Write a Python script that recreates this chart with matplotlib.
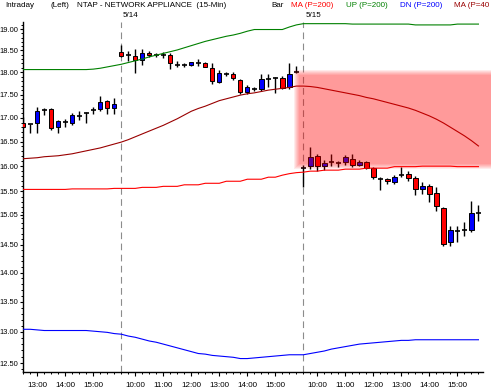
import numpy as np
import matplotlib
matplotlib.use("Agg")
import matplotlib.pyplot as plt
from matplotlib.patches import Rectangle
from matplotlib.ticker import FixedLocator, FixedFormatter, NullFormatter

plt.rcParams['font.family'] = ['Liberation Sans', 'DejaVu Sans']

# NTAP 15-min bars: 5/13 12:30-15:45, then 5/14 and 5/15 9:30-15:45
opens = [16.90, 16.86, 16.88, 17.16, 17.19, 16.80, 16.92, 16.90, 17.03, 17.11, 17.16, 17.18, 17.36, 17.20,
         18.46, 18.40, 18.38, 18.27, 18.45, 18.39, 18.39, 18.39, 18.16, 18.16, 18.17, 18.21, 18.21, 18.10,
         17.78, 17.96, 17.97, 17.82, 17.56, 17.63, 17.63, 17.84, 17.88, 17.88, 17.66, 18.01,
         15.96, 16.00, 16.20, 16.00, 16.08, 16.07, 16.08, 16.15, 16.03, 16.08, 15.97, 15.74, 15.74,
         15.68, 15.82, 15.84, 15.76, 15.54, 15.61, 15.47, 15.18, 14.54, 14.75, 14.77, 14.76, 15.08]
closes = [16.81, 16.86, 17.14, 17.16, 16.78, 16.93, 16.92, 17.05, 17.03, 17.11, 17.16, 17.35, 17.20, 17.29,
          18.38, 18.40, 18.28, 18.45, 18.40, 18.39, 18.39, 18.20, 18.16, 18.16, 18.23, 18.21, 18.12, 17.80,
          17.99, 17.96, 17.87, 17.56, 17.68, 17.63, 17.84, 17.84, 17.88, 17.65, 17.97, 18.01,
          15.96, 16.19, 16.00, 16.07, 16.08, 16.07, 16.18, 16.02, 16.08, 15.97, 15.78, 15.74, 15.70,
          15.78, 15.82, 15.77, 15.54, 15.60, 15.46, 15.22, 14.52, 14.76, 14.75, 14.77, 15.09, 15.08]
highs = [17.01, 16.87, 17.24, 17.22, 17.20, 16.95, 16.97, 17.11, 17.14, 17.12, 17.23, 17.47, 17.38, 17.42,
         18.62, 18.48, 18.54, 18.54, 18.48, 18.45, 18.47, 18.43, 18.26, 18.21, 18.24, 18.30, 18.23, 18.20,
         18.06, 18.01, 18.00, 17.85, 17.71, 17.68, 17.97, 17.97, 17.89, 17.91, 18.22, 18.15,
         16.02, 16.38, 16.24, 16.12, 16.24, 16.11, 16.23, 16.24, 16.12, 16.10, 15.99, 15.78, 15.76,
         15.83, 15.98, 15.91, 15.80, 15.68, 15.64, 15.58, 15.21, 14.84, 14.84, 14.91, 15.32, 15.24]
lows = [16.79, 16.67, 16.67, 17.06, 16.75, 16.68, 16.81, 16.85, 16.95, 16.90, 17.09, 17.14, 17.09, 17.09,
        18.34, 18.26, 17.98, 18.17, 18.35, 18.34, 18.33, 18.08, 18.12, 18.12, 18.14, 18.15, 18.11, 17.73,
        17.75, 17.91, 17.82, 17.52, 17.52, 17.58, 17.59, 17.66, 17.53, 17.62, 17.62, 17.98,
        15.59, 15.94, 15.91, 15.92, 16.00, 15.99, 16.03, 15.99, 16.00, 15.94, 15.74, 15.52, 15.64,
        15.64, 15.78, 15.70, 15.43, 15.46, 15.30, 15.13, 14.48, 14.48, 14.54, 14.66, 14.74, 14.94]

# indicator lines, one value per bar
ma200 = [15.54, 15.54, 15.54, 15.54, 15.54, 15.54, 15.54, 15.55, 15.55, 15.55, 15.55, 15.55, 15.55, 15.56,
         15.56, 15.56, 15.56, 15.58, 15.58, 15.58, 15.60, 15.60, 15.60, 15.63, 15.63, 15.63, 15.66, 15.66,
         15.66, 15.70, 15.70, 15.70, 15.74, 15.74, 15.74, 15.78, 15.78, 15.82, 15.85, 15.87,
         15.88, 15.90, 15.90, 15.92, 15.92, 15.92, 15.94, 15.94, 15.94, 15.96, 15.96, 15.96, 15.96,
         15.99, 15.99, 15.99, 15.99, 16.00, 16.00, 16.00, 16.00, 16.00, 15.99, 15.99, 15.99, 15.99]
up200 = [18.06, 18.06, 18.06, 18.06, 18.06, 18.06, 18.06, 18.06, 18.06, 18.06, 18.07, 18.09, 18.12, 18.15,
         18.18, 18.22, 18.26, 18.30, 18.35, 18.39, 18.43, 18.47, 18.51, 18.56, 18.61, 18.66, 18.71, 18.75,
         18.79, 18.83, 18.86, 18.90, 18.95, 18.99, 18.99, 18.99, 18.99, 18.99, 19.05, 19.10,
         19.13, 19.13, 19.13, 19.13, 19.13, 19.13, 19.13, 19.12, 19.12, 19.12, 19.12, 19.12, 19.12,
         19.12, 19.12, 19.12, 19.10, 19.10, 19.10, 19.10, 19.10, 19.10, 19.12, 19.12, 19.12, 19.12]
dn200 = [13.04, 13.04, 13.03, 13.02, 13.02, 13.02, 13.02, 13.02, 13.02, 13.02, 13.01, 13.00, 12.99, 12.97,
         12.96, 12.93, 12.91, 12.88, 12.85, 12.83, 12.80, 12.77, 12.74, 12.71, 12.68, 12.65, 12.64, 12.62,
         12.61, 12.60, 12.59, 12.57, 12.57, 12.58, 12.59, 12.60, 12.61, 12.62, 12.63, 12.63,
         12.63, 12.65, 12.67, 12.69, 12.72, 12.74, 12.76, 12.78, 12.80, 12.81, 12.82, 12.83, 12.84,
         12.85, 12.86, 12.86, 12.87, 12.87, 12.87, 12.87, 12.87, 12.87, 12.87, 12.87, 12.87, 12.87]
ma40 = [16.15, 16.16, 16.17, 16.19, 16.20, 16.21, 16.23, 16.25, 16.28, 16.31, 16.34, 16.37, 16.41, 16.45,
        16.49, 16.54, 16.60, 16.66, 16.72, 16.78, 16.84, 16.91, 16.98, 17.06, 17.14, 17.20, 17.25, 17.31,
        17.37, 17.41, 17.45, 17.49, 17.52, 17.54, 17.57, 17.60, 17.62, 17.64, 17.66, 17.69,
        17.69, 17.68, 17.66, 17.63, 17.60, 17.57, 17.54, 17.51, 17.48, 17.44, 17.41, 17.37, 17.33,
        17.29, 17.25, 17.21, 17.16, 17.10, 17.04, 16.97, 16.89, 16.80, 16.71, 16.62, 16.52, 16.41]

day_starts = [14, 40]
day_labels = ["5/14", "5/15"]
hour_bars = [2, 6, 10, 16, 20, 24, 28, 32, 36, 42, 46, 50, 54, 58, 62]
hour_labels = ["13:00", "14:00", "15:00", "10:00", "11:00", "12:00", "13:00", "14:00", "15:00",
               "10:00", "11:00", "12:00", "13:00", "14:00", "15:00"]
y_ticks = [19.0, 18.5, 18.0, 17.5, 17.0, 16.5, 16.0, 15.5, 15.05, 14.5, 14.0, 13.5, 13.0, 12.5]
zone_x = 38.9      # highlighted zone starts here (bar units)
zone_lo, zone_hi = 15.98, 18.00

W, H = 491, 391
fig = plt.figure(figsize=(W / 100, H / 100), dpi=100)
ax = fig.add_axes([22.5 / W, 1 - 372 / H, (483 - 22.5) / W, (372 - 22) / H])

o = np.array(opens); c = np.array(closes)
hi = np.array(highs); lo = np.array(lows)
x = np.arange(len(o))

ax.set_yscale('log')
ax.set_xlim(-0.1, 65.65)
ax.set_ylim(12.36, 19.17)

# candles
ax.vlines(x, lo, hi, color='black', lw=1.0, zorder=3)
up = c > o
dn = c < o
eq = c == o
ax.bar(x[up], c[up] - o[up], bottom=o[up], width=0.62, color='#0000ff',
       edgecolor='black', lw=0.7, zorder=4)
ax.bar(x[dn], o[dn] - c[dn], bottom=c[dn], width=0.62, color='#ff0000',
       edgecolor='black', lw=0.7, zorder=4)
ax.hlines(o[eq], x[eq] - 0.34, x[eq] + 0.34, color='black', lw=1.2, zorder=4)

# indicators
ax.plot(x, up200, color='#008000', lw=0.8, zorder=5)
ax.plot(x, ma200, color='#ff0000', lw=0.8, zorder=5)
ax.plot(x, dn200, color='#0000ff', lw=0.8, zorder=5)
ax.plot(x, ma40, color='#990000', lw=0.8, zorder=5)

# day separators
for d in day_starts:
    ax.axvline(d, color='#8c8c8c', lw=0.8, ls=(0, (6, 4)), zorder=2)

# soft-edged red zone
px = 1 / 7.0
for k in range(6):
    ax.add_patch(Rectangle((zone_x + (k - 2) * px, zone_lo * np.exp(-(2 - k) / 797.7)),
                           70 - zone_x, zone_hi * np.exp((2 - k) / 797.7) - zone_lo * np.exp(-(2 - k) / 797.7),
                           facecolor='#ff0000', alpha=0.08, lw=0, zorder=6, clip_on=False))

# axes styling
for s in ['top', 'right']:
    ax.spines[s].set_visible(False)
ax.spines['left'].set_linewidth(1.0)
ax.spines['bottom'].set_linewidth(1.0)

ax.yaxis.set_major_locator(FixedLocator(y_ticks))
ax.yaxis.set_major_formatter(FixedFormatter(["%.2f" % v for v in y_ticks]))
ax.yaxis.set_minor_locator(FixedLocator(np.round(np.arange(12.4, 19.2, 0.1), 2)))
ax.yaxis.set_minor_formatter(NullFormatter())
ax.xaxis.set_major_locator(FixedLocator(hour_bars))
ax.xaxis.set_major_formatter(FixedFormatter(hour_labels))
ax.xaxis.set_minor_locator(FixedLocator(x))
ax.tick_params(axis='y', which='major', labelsize=5.4, length=2.2, width=0.8, pad=0.6)
ax.tick_params(axis='x', which='major', labelsize=5.8, length=3, width=0.8, pad=4)
ax.tick_params(axis='both', which='minor', length=1.6, width=0.7)


def ftext(xp, yp, s, **kw):
    fig.text(xp / W, 1 - yp / H, s, va='center', ha='left', fontsize=5.8, **kw)


ftext(5, 5.5, "Intraday")
ftext(50.5, 5.5, "(Left)")
ftext(77, 5.5, "NTAP - NETWORK APPLIANCE  (15-Min)")
ftext(271, 5.5, "Bar")
ftext(291, 5.5, "MA (P=200)", color='#ff0000')
ftext(346, 5.5, "UP (P=200)", color='#008000')
ftext(400, 5.5, "DN (P=200)", color='#0000ff')
ftext(454, 5.5, "MA (P=40", color='#990000')
ftext(123, 15.5, day_labels[0])
ftext(305.5, 15.5, day_labels[1])

fig.savefig("out.png", dpi=100)
